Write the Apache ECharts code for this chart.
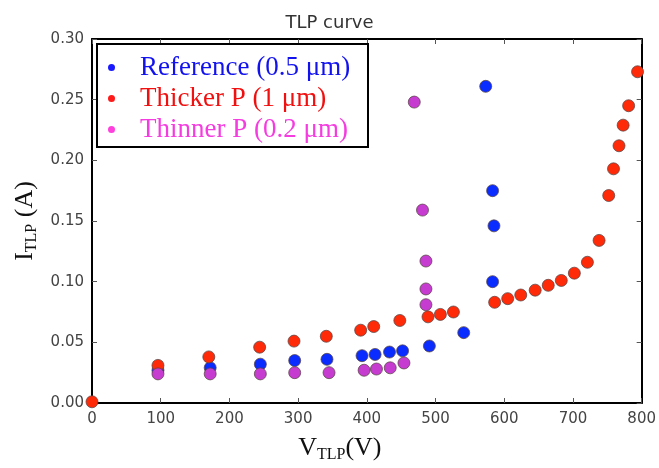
<!DOCTYPE html>
<html><head><meta charset="utf-8">
<script src="https://cdn.jsdelivr.net/npm/echarts@6/dist/echarts.min.js"></script>
<style>html,body{margin:0;padding:0;background:#fff}#c{width:659px;height:468px}</style>
</head><body><div id="c"></div>
<script>
// ---- data ----
const seriesNames = ['Reference (0.5 μm)', 'Thicker P (1 μm)', 'Thinner P (0.2 μm)'];
const refV = [96, 172, 245, 295, 342, 393, 412, 433, 452, 491, 541, 573, 583, 585, 583];
const refI = [0.027, 0.029, 0.032, 0.035, 0.036, 0.039, 0.040, 0.042, 0.043, 0.047, 0.058, 0.261, 0.175, 0.146, 0.100];
const thickV = [0, 96, 170, 244, 294, 341, 391, 410, 448, 489, 507, 526, 586, 605, 624, 645, 664, 683, 702, 721, 738, 752, 759, 767, 773, 781, 794];
const thickI = [0.001, 0.031, 0.038, 0.046, 0.051, 0.055, 0.060, 0.063, 0.068, 0.071, 0.073, 0.075, 0.083, 0.086, 0.089, 0.093, 0.097, 0.101, 0.107, 0.116, 0.134, 0.171, 0.193, 0.212, 0.229, 0.245, 0.273];
const thinV = [96, 172, 245, 295, 345, 396, 414, 434, 454, 469, 481, 486, 486, 486];
const thinI = [0.024, 0.024, 0.024, 0.025, 0.025, 0.027, 0.028, 0.029, 0.033, 0.248, 0.159, 0.117, 0.094, 0.081];
const xTicks = [0, 100, 200, 300, 400, 500, 600, 700, 800];
const yTicks = [0, 0.05, 0.10, 0.15, 0.20, 0.25, 0.30];

const pairs = (xs, ys) => xs.map((x, i) => [x, ys[i]]);
const markColors = ['#0a2cff', '#ff2a08', '#c63cd0'];
const legendDot = ['#1a1aff', '#ff1a1a', '#ff40dd'];
const legendText = ['#1212ee', '#f01010', '#f53ce0'];

const chart = echarts.init(document.getElementById('c'));
const tickLabelStyle = { color: '#444', fontFamily: 'DejaVu Sans', fontSize: 15 };
const serif = 'Liberation Serif';
const axisCommon = (extra) => Object.assign({
  axisLine: { show: true, onZero: false, lineStyle: { color: '#000', width: 2 } },
  axisTick: { show: true, inside: true, length: 5, lineStyle: { color: '#555', width: 1 } },
  splitLine: { show: false }
}, extra);

chart.setOption({
  animation: false,
  backgroundColor: '#fff',
  title: {
    text: 'TLP curve', left: 'center', top: 9,
    textStyle: { color: '#333', fontFamily: 'DejaVu Sans', fontSize: 18, fontWeight: 'normal' }
  },
  grid: { left: 92, right: 12, top: 39, bottom: 62 },
  xAxis: [
    axisCommon({
      type: 'value', min: xTicks[0], max: xTicks[xTicks.length - 1], interval: 100, position: 'bottom',
      axisLabel: Object.assign({ margin: 9 }, tickLabelStyle),
      name: '{m|V}{s|TLP}{m|(V)}', nameLocation: 'middle', nameGap: 30,
      nameTextStyle: { padding: [0, 54, 0, 0], rich: {
        m: { fontFamily: serif, fontSize: 26, color: '#111', lineHeight: 30 },
        s: { fontFamily: serif, fontSize: 16, color: '#111', lineHeight: 30, verticalAlign: 'bottom' } } }
    }),
    axisCommon({ type: 'value', min: 0, max: 800, interval: 100, position: 'top', axisLabel: { show: false } })
  ],
  yAxis: [
    axisCommon({
      type: 'value', min: yTicks[0], max: yTicks[yTicks.length - 1], interval: 0.05, position: 'left',
      axisLabel: Object.assign({ margin: 8, formatter: v => v.toFixed(2) }, tickLabelStyle),
      name: '{m|I}{s|TLP}{m| (A)}', nameLocation: 'middle', nameGap: 52, nameRotate: 90,
      nameTextStyle: { padding: [0, 0, 0, 0], rich: {
        m: { fontFamily: serif, fontSize: 26, color: '#111', lineHeight: 30 },
        s: { fontFamily: serif, fontSize: 16, color: '#111', lineHeight: 30, verticalAlign: 'bottom' } } }
    }),
    axisCommon({ type: 'value', min: 0, max: 0.3, interval: 0.05, position: 'right', axisLabel: { show: false } })
  ],
  graphic: [{
    type: 'rect', z: 50, shape: { x: 97, y: 44, width: 271, height: 103 },
    style: { fill: '#fff', stroke: '#000', lineWidth: 2 }
  }],
  legend: {
    z: 60, orient: 'vertical', left: 97, top: 44, padding: [10, 10, 7, 11], itemGap: 4,
    itemWidth: 7, itemHeight: 7, icon: 'circle', borderWidth: 0,
    data: seriesNames.map((n, i) => ({
      name: n, icon: 'circle',
      itemStyle: { color: legendDot[i], borderWidth: 0 },
      textStyle: { color: legendText[i] }
    })),
    textStyle: { fontFamily: serif, fontSize: 27, lineHeight: 26, padding: [0, 0, 0, 20] }
  },
  series: [
    { name: seriesNames[0], data: pairs(refV, refI) },
    { name: seriesNames[1], data: pairs(thickV, thickI) },
    { name: seriesNames[2], data: pairs(thinV, thinI) }
  ].map((s, i) => Object.assign({
    type: 'scatter', symbol: 'circle', symbolSize: 12, clip: true, z: 2 + i,
    itemStyle: { color: markColors[i], borderColor: 'rgba(90,70,70,0.75)', borderWidth: 1, opacity: 1 }
  }, s))
});
</script></body></html>
